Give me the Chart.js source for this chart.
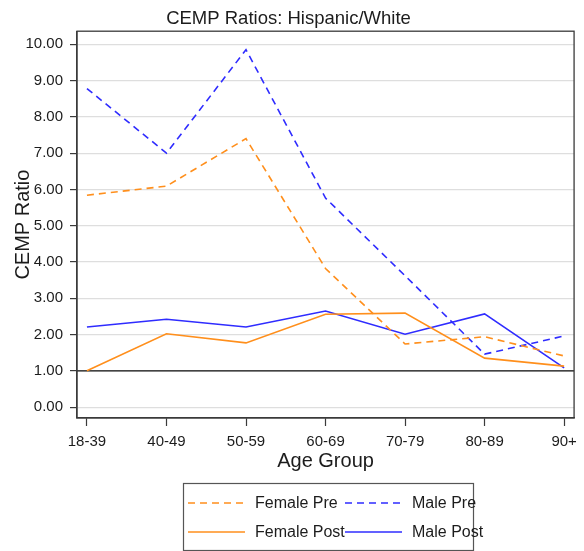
<!DOCTYPE html>
<html>
<head>
<meta charset="utf-8">
<script src="https://cdn.jsdelivr.net/npm/chart.js@4"></script>
<style>
    body { margin: 0; background: #fff; }
    #wrap { width: 584px; height: 551px; }
</style>
</head>
<body>
<div id="wrap"><canvas id="cempChart" width="584" height="551"></canvas></div>
<script>
// Data
const categories = ['18-39', '40-49', '50-59', '60-69', '70-79', '80-89', '90+'];
const femalePre = [5.84, 6.09, 7.40, 3.82, 1.74, 1.94, 1.41];
const malePre = [8.78, 7.00, 9.85, 5.76, 3.62, 1.46, 1.96];
const femalePost = [1.00, 2.02, 1.77, 2.56, 2.59, 1.35, 1.13];
const malePost = [2.21, 2.42, 2.21, 2.65, 2.01, 2.57, 1.08];
const yTicks = [0, 1, 2, 3, 4, 5, 6, 7, 8, 9, 10];
const refLine = 1;

const ORANGE = '#ff8f1c';
const BLUE = '#2f2cff';
const FONT = "'Liberation Sans', Arial, sans-serif";
const TEXT = '#1c1c1c';

function toPoints(values) {
    return values.map((v, i) => ({ x: i, y: v }));
}

// Frame around the plot plus the reference line at 1.00
const framePlugin = {
    id: 'frame',
    beforeDatasetsDraw(chart) {
        const { ctx, chartArea, scales } = chart;
        const y = scales.y.getPixelForValue(refLine);
        ctx.save();
        ctx.strokeStyle = '#111';
        ctx.lineWidth = 1.2;
        ctx.beginPath();
        ctx.moveTo(chartArea.left, y);
        ctx.lineTo(chartArea.right, y);
        ctx.stroke();
        ctx.restore();
    },
    afterDatasetsDraw(chart) {
        const { ctx, chartArea } = chart;
        ctx.save();
        ctx.strokeStyle = '#3a3a3a';
        ctx.lineWidth = 1.3;
        ctx.strokeRect(chartArea.left, chartArea.top, chartArea.right - chartArea.left, chartArea.bottom - chartArea.top);
        ctx.restore();
    }
};

// Boxed two-column legend under the axis
const boxLegend = {
    id: 'boxLegend',
    afterDraw(chart) {
        const ctx = chart.ctx;
        ctx.save();
        ctx.strokeStyle = '#555';
        ctx.lineWidth = 1.2;
        ctx.strokeRect(183.5, 483.5, 290, 67);
        ctx.font = '16px ' + FONT;
        ctx.textBaseline = 'middle';
        ctx.fillStyle = TEXT;
        chart.data.datasets.forEach((ds, i) => {
            const x = 188 + (i % 2) * 157;
            const y = 503 + Math.floor(i / 2) * 29;
            ctx.strokeStyle = ds.borderColor;
            ctx.lineWidth = ds.borderWidth;
            ctx.setLineDash(ds.borderDash || []);
            ctx.beginPath();
            ctx.moveTo(x, y);
            ctx.lineTo(x + 57, y);
            ctx.stroke();
            ctx.setLineDash([]);
            ctx.fillText(ds.label, x + 67, y + 1);
        });
        ctx.restore();
    }
};

const ctx = document.getElementById('cempChart').getContext('2d');
new Chart(ctx, {
    type: 'line',
    data: {
        datasets: [
            { label: 'Female Pre', data: toPoints(femalePre), borderColor: ORANGE, borderDash: [7, 5], borderWidth: 1.6 },
            { label: 'Male Pre', data: toPoints(malePre), borderColor: BLUE, borderDash: [7, 5], borderWidth: 1.6 },
            { label: 'Female Post', data: toPoints(femalePost), borderColor: ORANGE, borderWidth: 1.6 },
            { label: 'Male Post', data: toPoints(malePost), borderColor: BLUE, borderWidth: 1.6 }
        ]
    },
    options: {
        responsive: false,
        animation: false,
        devicePixelRatio: 1,
        elements: { point: { radius: 0 }, line: { tension: 0, fill: false } },
        layout: { padding: { top: 0, left: 0, right: 7, bottom: 73 } },
        plugins: {
            legend: { display: false },
            tooltip: { enabled: false },
            title: {
                display: true,
                text: 'CEMP Ratios: Hispanic/White',
                color: TEXT,
                font: { family: FONT, size: 18.5, weight: 'normal' },
                padding: { top: 8, bottom: 1 }
            }
        },
        scales: {
            x: {
                type: 'linear',
                min: -0.125,
                max: 6.125,
                afterBuildTicks: s => { s.ticks = categories.map((c, i) => ({ value: i })); },
                afterFit: s => { s.height = 60; },
                ticks: {
                    callback: v => categories[v],
                    color: TEXT,
                    font: { family: FONT, size: 15 },
                    padding: 7,
                    maxRotation: 0,
                    autoSkip: false
                },
                grid: { drawOnChartArea: false, drawTicks: true, tickLength: 8, tickColor: '#3a3a3a', tickWidth: 1.2 },
                border: { display: true, color: '#3a3a3a', width: 1.3 },
                title: {
                    display: true,
                    text: 'Age Group',
                    color: TEXT,
                    font: { family: FONT, size: 20 },
                    padding: { top: 0, bottom: 5 }
                }
            },
            y: {
                min: -0.3,
                max: 10.36,
                afterBuildTicks: s => { s.ticks = yTicks.map(v => ({ value: v })); },
                afterFit: s => { s.width = 77; },
                ticks: {
                    callback: v => v.toFixed(2),
                    color: TEXT,
                    font: { family: FONT, size: 15 },
                    padding: 7
                },
                grid: { color: '#dedede', lineWidth: 1.2, tickLength: 7, tickColor: '#3a3a3a', tickWidth: 1.2 },
                border: { display: true, color: '#3a3a3a', width: 1.3 },
                title: {
                    display: true,
                    text: 'CEMP Ratio',
                    color: TEXT,
                    font: { family: FONT, size: 20 },
                    padding: { top: 11, bottom: 0 }
                }
            }
        }
    },
    plugins: [framePlugin, boxLegend]
});
</script>
</body>
</html>
